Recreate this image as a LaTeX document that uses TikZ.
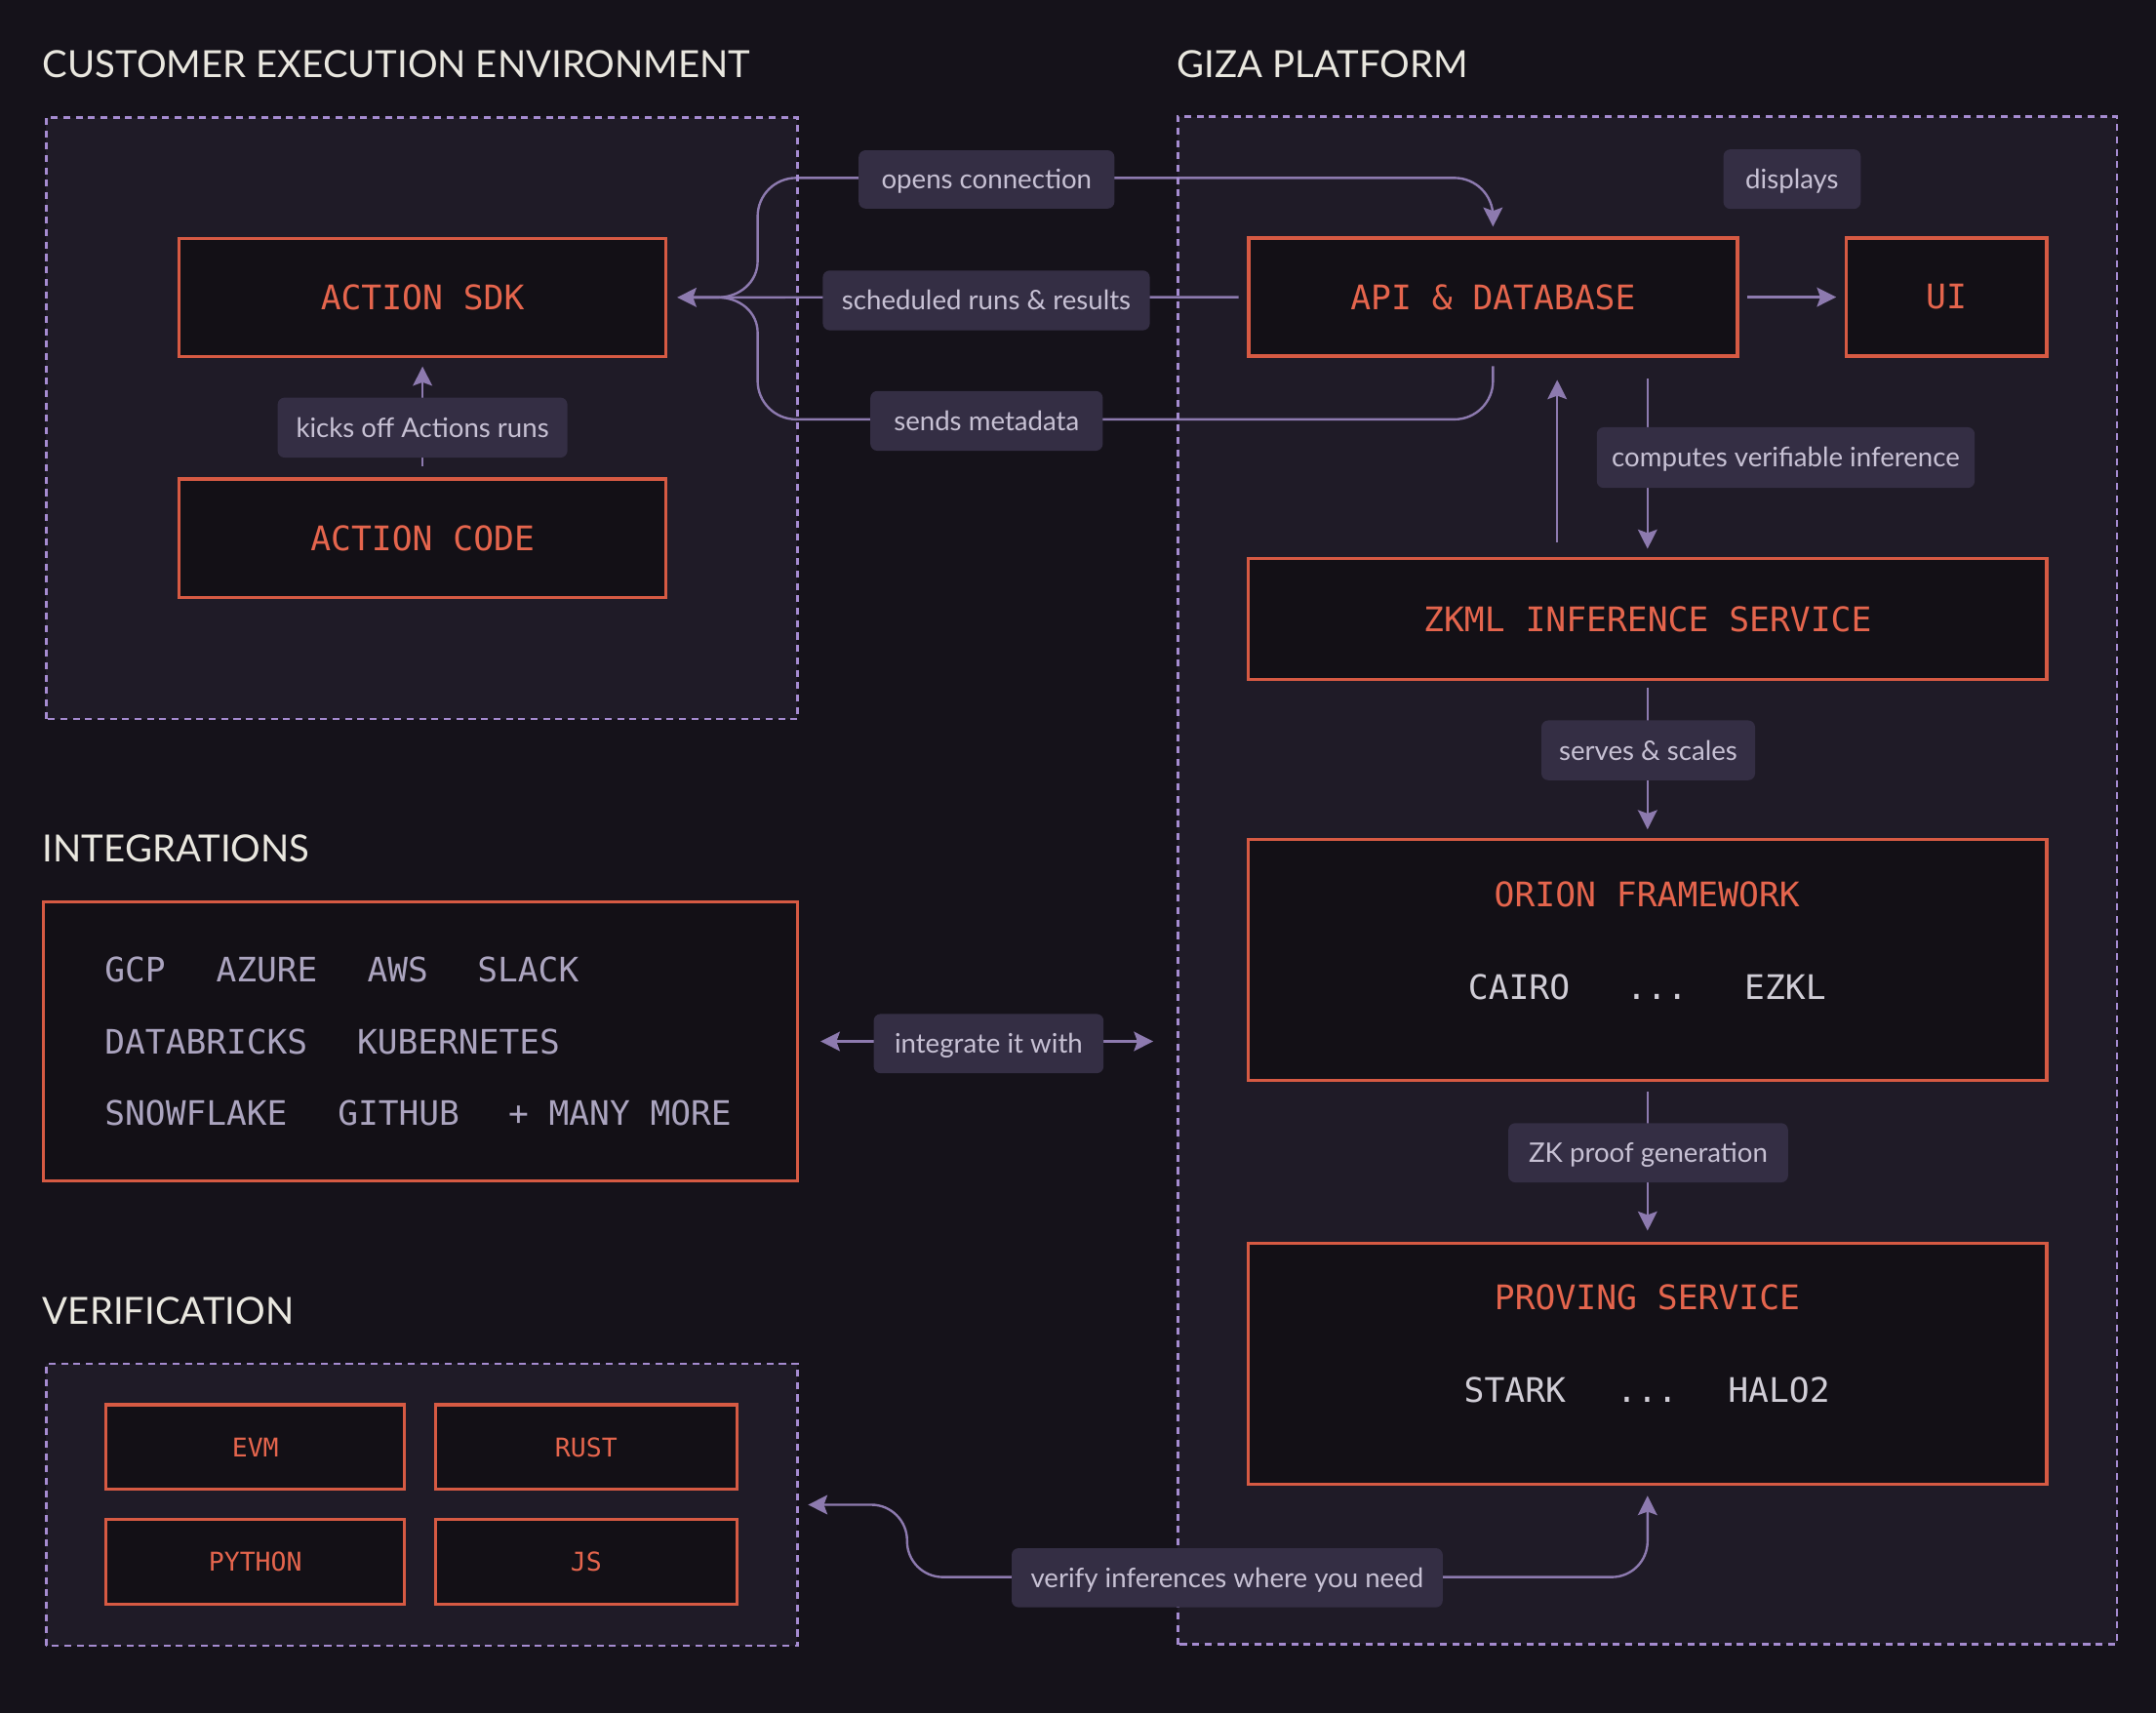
\documentclass[tikz,border=0pt]{standalone}
\usepackage{fontspec}
\setmainfont{Lato}
\newfontfamily\monof{DejaVu Sans Mono}
\usetikzlibrary{arrows.meta,calc}
\definecolor{bgc}{HTML}{15121A}
\definecolor{panelc}{HTML}{1F1B27}
\definecolor{dashc}{HTML}{A58BD0}
\definecolor{boxfill}{HTML}{131016}
\definecolor{boxc}{HTML}{D65A43}
\definecolor{redtxt}{HTML}{E5654D}
\definecolor{connc}{HTML}{8D7AAF}
\definecolor{pillc}{HTML}{342E44}
\definecolor{pilltxt}{HTML}{C7C1D4}
\definecolor{titlec}{HTML}{E9E7DF}
\definecolor{intc}{HTML}{ABA4BF}
\definecolor{subc}{HTML}{D0CDD6}
\begin{document}
\begin{tikzpicture}[x=1pt,y=-1pt,
  panel/.style={fill=panelc, inner sep=0pt},
  panelline/.style={draw=dashc, line width=1.9pt, dash pattern=on 5pt off 4pt},
  rbox/.style={draw=boxc, fill=boxfill, line width=2.4pt, inner sep=0pt, text=redtxt, font=\monof\fontsize{24.6}{28}\selectfont},
  sbox/.style={rbox, font=\monof\fontsize{18.8}{22}\selectfont},
  pill/.style={fill=pillc, rounded corners=5pt, inner sep=0pt, text=pilltxt, text height=17pt, text depth=3pt, font=\fontsize{19.6}{22}\selectfont},
  conn/.style={draw=connc, line width=1.7pt},
  tip/.tip={Stealth[length=14pt,width=14pt,inset=2.5pt]},
  ttl/.style={anchor=west, inner sep=0pt, text=titlec, font=\fontsize{27.2}{30}\selectfont},
  intw/.style={anchor=west, inner sep=0pt, text=intc, text height=17.9pt, text depth=0pt, font=\monof\fontsize{24.5}{28}\selectfont},
  subw/.style={inner sep=0pt, text=subc, text height=17.9pt, text depth=0pt, font=\monof\fontsize{24.6}{28}\selectfont},
  redw/.style={inner sep=0pt, text=redtxt, text height=17.9pt, text depth=0pt, font=\monof\fontsize{24.6}{28}\selectfont}
]
\useasboundingbox (0,0) rectangle (1568,1246);
\fill[bgc] (0,0) rectangle (1568,1246);

% titles
\node[ttl] (t1) at (31,47) {CUSTOMER EXECUTION ENVIRONMENT};
\node[ttl] (t2) at (856,47) {GIZA PLATFORM};
\node[ttl] (t3) at (31,616.8) {INTEGRATIONS};
\node[ttl] (t4) at (31,953.1) {VERIFICATION};

% containers (fill)
\node[panel, minimum width=546.3pt, minimum height=437.1pt] (cust) at (306.85,304.05) {};
\node[panel, minimum width=682.6pt, minimum height=1110.9pt] (giza) at (1198,640.25) {};
\node[panel, minimum width=546.3pt, minimum height=204.6pt] (verif) at (306.85,1094.4) {};

% boxes
\node[rbox, minimum width=354pt, minimum height=86pt] (sdk) at (307.3,216.3) {ACTION SDK};
\node[rbox, minimum width=354pt, minimum height=86pt] (code) at (307.3,391.5) {ACTION CODE};
\node[rbox, minimum width=355.5pt, minimum height=86pt] (api) at (1085.8,216.1) {API \& DATABASE};
\node[rbox, minimum width=145.8pt, minimum height=86pt] (ui) at (1415.5,216.1) {UI};
\node[rbox, minimum width=580.4pt, minimum height=87.7pt] (zkml) at (1198.2,450.2) {ZKML INFERENCE SERVICE};
\node[rbox, minimum width=580.4pt, minimum height=175.4pt] (orion) at (1198.2,698.1) {};
\node[rbox, minimum width=580.4pt, minimum height=175.4pt] (proving) at (1198.2,992) {};
\node[rbox, minimum width=548.4pt, minimum height=203.2pt] (integ) at (305.7,757.4) {};
\node[sbox, minimum width=217.2pt, minimum height=61.5pt] (evm) at (185.7,1052.5) {EVM};
\node[sbox, minimum width=219.3pt, minimum height=61.5pt] (rust) at (426.3,1052.5) {RUST};
\node[sbox, minimum width=217.2pt, minimum height=61.5pt] (python) at (185.7,1136) {PYTHON};
\node[sbox, minimum width=219.3pt, minimum height=61.5pt] (js) at (426.3,1136) {JS};

% box contents
\node[redw] (oriont) at (1197.8,650.5) {ORION FRAMEWORK};
\node[subw, anchor=west] (cairo) at (1067.5,717.9) {CAIRO};
\node[subw] (odots) at (1205,717.9) {...};
\node[subw, anchor=west] (ezkl) at (1268.5,717.9) {EZKL};
\node[redw] (provt) at (1198,943.5) {PROVING SERVICE};
\node[subw, anchor=west] (stark) at (1064.5,1011.3) {STARK};
\node[subw] (pdots) at (1198,1011.3) {...};
\node[subw, anchor=west] (halo) at (1256.5,1011.3) {HALO2};

\node[intw] (gcp) at (76,705.3) {GCP};
\node[intw] (azure) at (157,705.3) {AZURE};
\node[intw] (aws) at (267,705.3) {AWS};
\node[intw] (slack) at (347,705.3) {SLACK};
\node[intw] (databricks) at (76,757.5) {DATABRICKS};
\node[intw] (kube) at (259.5,757.5) {KUBERNETES};
\node[intw] (snow) at (76,809.3) {SNOWFLAKE};
\node[intw] (github) at (245.5,809.3) {GITHUB};
\node[intw] (more) at (369.5,809.3) {+ MANY MORE};

% connectors
\coordinate (jn) at (504,216.3);
\coordinate (jt) at (551,190);
\coordinate (jb) at (551,242);
\coordinate (upx) at (1132.5,0);
\coordinate (dnx) at (1198.2,0);
\draw[conn,-{tip}, shorten <=8pt, shorten >=6pt] (code.north) -- (sdk.south);
\draw[conn,-{tip}, shorten <=6pt, shorten >=7pt] (api.west) -- (sdk.east);
\draw[conn] (jn) -- (522,216.3) .. controls (538,216.3) and (551,205) .. (jt);
\draw[conn] (jn) -- (522,216.3) .. controls (538,216.3) and (551,227) .. (jb);
\draw[conn,-{tip}, rounded corners=28pt] (jt) -- (551,129.4) -- (1085.8,129.4) -- ([yshift=7pt]api.north);
\draw[conn, rounded corners=28pt] ([yshift=-6pt]api.south) -- (1085.8,305) -- (551,305) -- (jb);
\draw[conn,-{tip}, shorten <=6pt, shorten >=6pt] (api.east) -- (ui.west);
\draw[conn,-{tip}, shorten <=11pt, shorten >=16pt] (upx |- zkml.north) -- (upx |- api.south);
\draw[conn,-{tip}, shorten <=15pt, shorten >=6pt] (dnx |- api.south) -- (dnx |- zkml.north);
\draw[conn,-{tip}, shorten <=5pt, shorten >=6pt] (zkml.south) -- (orion.north);
\draw[conn,-{tip}, shorten <=7pt, shorten >=8pt] (orion.south) -- (proving.north);
\draw[conn,{tip}-{tip}, shorten <=15.7pt, shorten >=17.8pt] (integ.east) -- (integ.east -| giza.west);
\draw[conn,{tip}-{tip}, rounded corners=26pt] ([xshift=7.5pt]verif.east) -- (659.7,1094.4) -- (659.7,1147) -- (1198.2,1147) -- ([yshift=-7pt]proving.south);

% dashed borders on top
\draw[panelline] (cust.south west) rectangle (cust.north east);
\draw[panelline] (giza.south west) rectangle (giza.north east);
\draw[panelline] (verif.south west) rectangle (verif.north east);

% labels
\node[pill, minimum width=186pt, minimum height=42.4pt] (lopen) at (717.5,130.5) {opens connection};
\node[pill, minimum width=237.8pt, minimum height=43.5pt] (lsched) at (717.3,218.5) {scheduled runs \& results};
\node[pill, minimum width=169pt, minimum height=43.4pt] (lsend) at (717.5,306.1) {sends metadata};
\node[pill, minimum width=210.7pt, minimum height=43.6pt] (lkick) at (307.3,311) {kicks off Actions runs};
\node[pill, minimum width=99.8pt, minimum height=43.3pt] (ldisp) at (1303.3,130.3) {displays};
\node[pill, minimum width=274.8pt, minimum height=44.1pt] (lcomp) at (1298.7,332.8) {computes verifiable inference};
\node[pill, minimum width=155.4pt, minimum height=43.5pt] (lserve) at (1198.7,545.7) {serves \& scales};
\node[pill, minimum width=203.4pt, minimum height=43.1pt] (lzk) at (1198.7,838.4) {ZK proof generation};
\node[pill, minimum width=167.2pt, minimum height=43.1pt] (lint) at (719,759) {integrate it with};
\node[pill, minimum width=313.5pt, minimum height=43pt] (lver) at (892.5,1147.5) {verify inferences where you need};
\end{tikzpicture}
\end{document}
